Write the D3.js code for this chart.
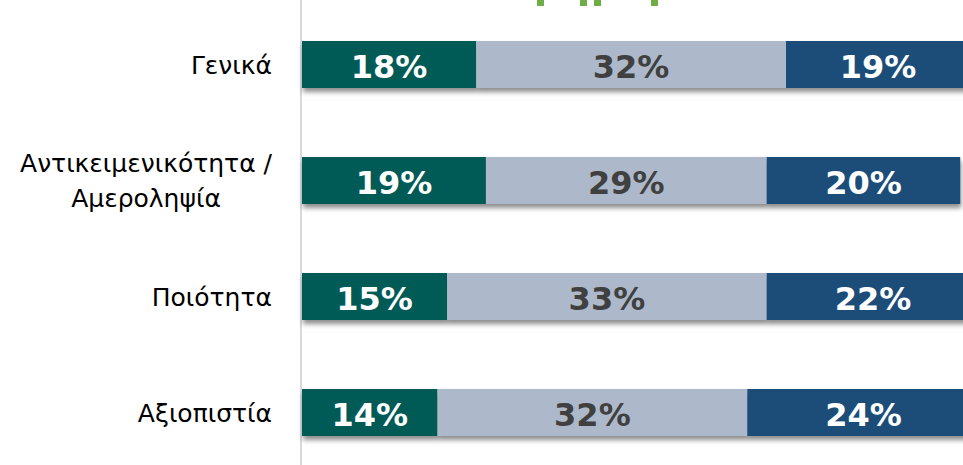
<!DOCTYPE html>
<html>
<head>
<meta charset="utf-8">
<script src="https://cdn.jsdelivr.net/npm/d3@7"></script>
<style>
  html, body { margin: 0; padding: 0; background: #fff; }
  svg { display: block; }
  .cat { font-family: "DejaVu Sans", sans-serif; font-size: 25px; fill: #000; }
  .val { font-family: "DejaVu Sans", sans-serif; font-size: 32px; font-weight: bold; }
</style>
</head>
<body>
<svg id="chart"></svg>
<script>
var categories = ["Γενικά", "Αντικειμενικότητα / Αμεροληψία", "Ποιότητα", "Αξιοπιστία"];
var seriesA = [18, 19, 15, 14];
var seriesB = [32, 29, 33, 32];
var seriesC = [19, 20, 22, 24];

var colorArray = ["#005a54", "#adb9ca", "#1f4e79"];
var textColors = ["#ffffff", "#404040", "#ffffff"];

var svgWidth = 963, svgHeight = 465;
var barHeight = 47;
var labelRight = 272;

var svg = d3.select("#chart")
  .attr("width", svgWidth)
  .attr("height", svgHeight);

// drop shadow under the bars
var defs = svg.append("defs");
var f = defs.append("filter").attr("id", "shadow")
  .attr("x", "-5%").attr("y", "-30%").attr("width", "110%").attr("height", "170%");
f.append("feDropShadow")
  .attr("dx", 1).attr("dy", 4).attr("stdDeviation", 2.5)
  .attr("flood-color", "#000").attr("flood-opacity", 0.45);

var x = d3.scaleLinear().domain([0, 100]).range([302, 302 + 968]);
var y = d3.scalePoint().domain(categories).range([64.5, 412.5]);

// cropped title fragment at top
var title = svg.append("g").attr("fill", "#70ad47");
[537, 580, 594, 651].forEach(function (tx) {
  title.append("rect").attr("x", tx).attr("y", 0).attr("width", 7).attr("height", 6);
});

// axis line
svg.append("line")
  .attr("x1", 301).attr("x2", 301)
  .attr("y1", 0).attr("y2", svgHeight)
  .attr("stroke", "#d9d9d9").attr("stroke-width", 2);

// build stacks
var rows = categories.map(function (c, i) {
  var vals = [seriesA[i], seriesB[i], seriesC[i]];
  var start = 0;
  return {
    cat: c,
    segs: vals.map(function (v, k) {
      var s = { v: v, x0: start, x1: start + v, k: k };
      start += v;
      return s;
    })
  };
});

var rowG = svg.selectAll("g.row")
  .data(rows)
  .enter()
  .append("g")
  .attr("class", "row")
  .attr("transform", function (d) { return "translate(0," + y(d.cat) + ")"; });

rowG.append("g")
  .attr("filter", "url(#shadow)")
  .selectAll("rect")
  .data(function (d) { return d.segs; })
  .enter()
  .append("rect")
  .attr("x", function (d) { return x(d.x0); })
  .attr("width", function (d) { return x(d.x1) - x(d.x0); })
  .attr("y", -barHeight / 2)
  .attr("height", barHeight)
  .attr("fill", function (d) { return colorArray[d.k]; });

rowG.selectAll("text.val")
  .data(function (d) { return d.segs; })
  .enter()
  .append("text")
  .attr("class", "val")
  .attr("x", function (d) { return (x(d.x0) + x(d.x1)) / 2; })
  .attr("y", 13.5)
  .attr("text-anchor", "middle")
  .attr("fill", function (d) { return textColors[d.k]; })
  .text(function (d) { return d.v + "%"; });

// category labels: block right-aligned, lines centred within block
rowG.each(function (d) {
  var lines = d.cat.indexOf(" / ") > -1 ? [d.cat.split(" / ")[0] + " /", d.cat.split(" / ")[1]] : [d.cat];
  var t = d3.select(this).append("text")
    .attr("class", "cat")
    .attr("text-anchor", "middle");
  var lh = 35;
  var spans = lines.map(function (ln, j) {
    return t.append("tspan")
      .attr("y", 9 + (j - (lines.length - 1) / 2) * lh)
      .text(ln);
  });
  var maxW = d3.max(spans, function (s) { return s.node().getComputedTextLength(); });
  spans.forEach(function (s) { s.attr("x", labelRight - maxW / 2); });
});
</script>
</body>
</html>
